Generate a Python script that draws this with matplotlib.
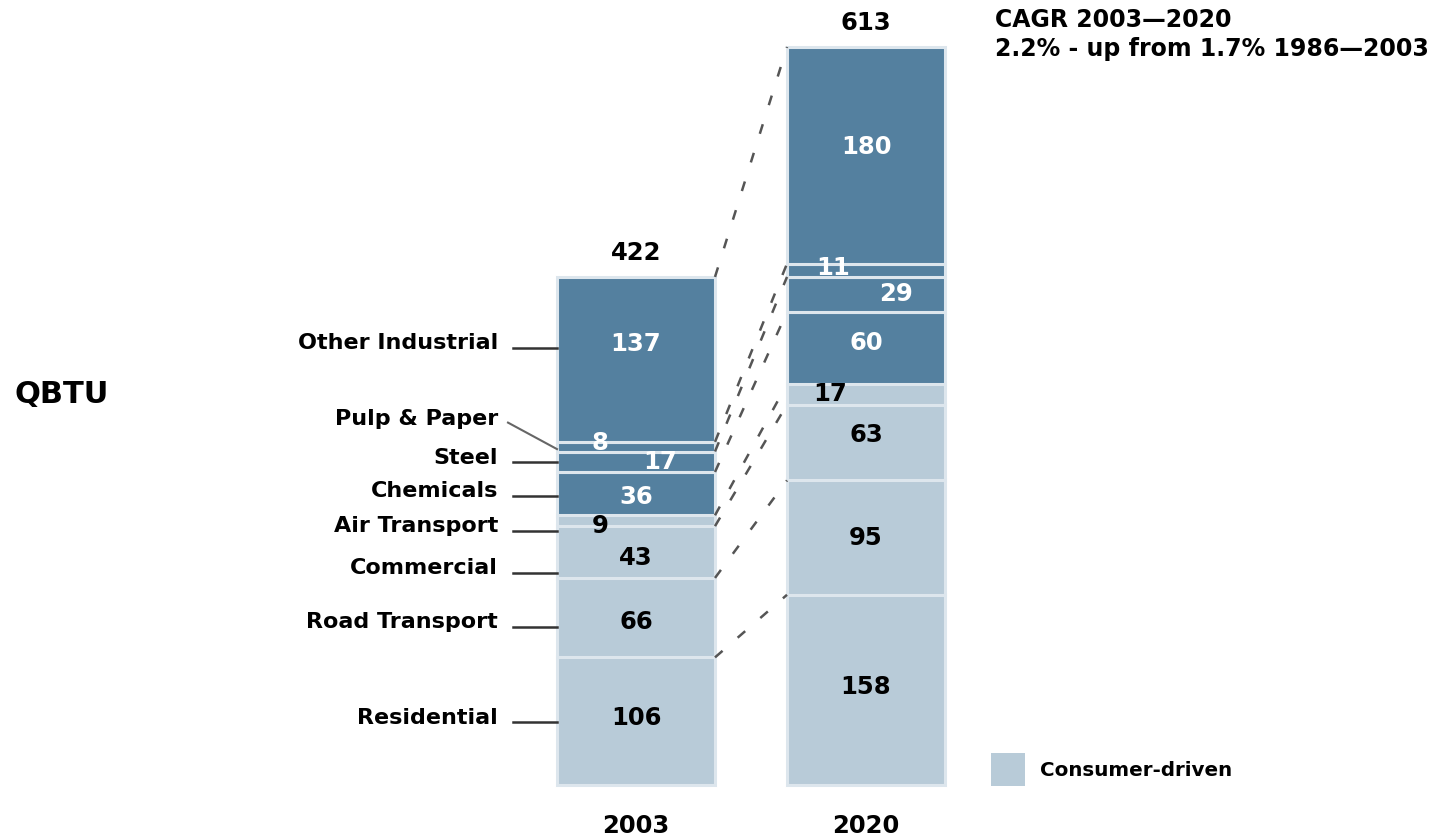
import matplotlib.pyplot as plt

# Energy demand by end use, QBTU
years = ['2003', '2020']
sectors = ['Residential', 'Road Transport', 'Commercial', 'Air Transport',
           'Chemicals', 'Steel', 'Pulp & Paper', 'Other Industrial']
consumer_driven = [True, True, True, True, False, False, False, False]
values_2003 = [106, 66, 43, 9, 36, 17, 8, 137]
values_2020 = [158, 95, 63, 17, 60, 29, 11, 180]
cagr_title = 'CAGR 2003\u20142020'
cagr_note = '2.2% - up from 1.7% 1986\u20142003'

# layout (x in figure pixels, y in QBTU)
bar_x = [636, 866]
bar_w = 158
label_y = [56, 135, 180, 215, 244, 272, 304, 367]
val_dx_2003 = [0, 0, 0, -36, 0, 24, -36, 0]
val_dy_2003 = [3, -4, -5, -4, -3, 0, 3, 13]
val_dx_2020 = [0, 0, 0, -36, 0, 30, -33, 0]
val_dy_2020 = [2, 0, 6, 0, 4, 0, 2, 7]

DARK = '#54809f'
LIGHT = '#b8cbd8'
SEP = '#dde6ed'

plt.rcParams['font.family'] = ['DejaVu Sans']
plt.rcParams['font.weight'] = 'bold'

fig = plt.figure(figsize=(14.4, 8.38), dpi=100)
ax = fig.add_axes([0, 0, 1, 1])
ax.set_xlim(0, 1440)
ax.set_ylim(-44, 652)
ax.axis('off')

colors = [LIGHT if c else DARK for c in consumer_driven]


def draw_stack(x, vals, dxs, dys):
    bottom = 0
    tops = []
    for v, col, dx, dy, cons in zip(vals, colors, dxs, dys, consumer_driven):
        ax.bar(x, v, bottom=bottom, width=bar_w, color=col,
               edgecolor=SEP, linewidth=2.2)
        ax.text(x + dx, bottom + v / 2 + dy, str(v), ha='center', va='center',
                fontsize=17.5, color='black' if cons else 'white')
        bottom += v
        tops.append(bottom)
    ax.text(x, bottom + 20, str(bottom), ha='center', va='center', fontsize=17.5)
    return tops


tops_2003 = draw_stack(bar_x[0], values_2003, val_dx_2003, val_dy_2003)
tops_2020 = draw_stack(bar_x[1], values_2020, val_dx_2020, val_dy_2020)

# dashed connectors between segment tops
x_right = bar_x[0] + bar_w / 2
x_left = bar_x[1] - bar_w / 2
for t0, t1 in zip(tops_2003, tops_2020):
    ax.plot([x_right, x_left], [t0, t1], color='#555555', lw=1.8,
            dashes=(4, 8))

# sector labels with leader lines
bar_left = bar_x[0] - bar_w / 2
bottoms_2003 = [0] + tops_2003[:-1]
for name, ly, b, v in zip(sectors, label_y, bottoms_2003, values_2003):
    ax.text(498, ly, name, ha='right', va='center', fontsize=16)
    if name == 'Pulp & Paper':
        ax.plot([508, bar_left], [ly - 3, b + v / 2 - 2], color='#666666', lw=1.5)
    else:
        ax.plot([513, bar_left], [ly - 4, ly - 4], color='#333333', lw=1.8)

for x, yr in zip(bar_x, years):
    ax.text(x, -34, yr, ha='center', va='center', fontsize=17.5)

ax.text(15, 324, 'QBTU', ha='left', va='center', fontsize=22)

ax.text(995, 635, cagr_title, ha='left', va='center', fontsize=17)
ax.text(995, 611, cagr_note, ha='left', va='center', fontsize=17)

# legend swatch
ax.bar(1008, 28, bottom=-1, width=34, color=LIGHT)
ax.text(1040, 12, 'Consumer-driven', ha='left', va='center', fontsize=14.3)

fig.savefig('out.png', dpi=100)
